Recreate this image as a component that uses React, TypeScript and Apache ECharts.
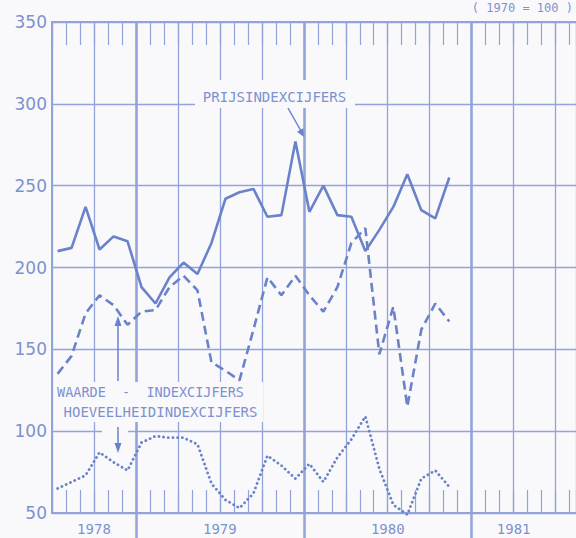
import React, { useEffect, useRef } from "react";
import * as echarts from "echarts";

// Monthly index values, July 1978 .. November 1980 (1970 = 100)
const prijs = [210, 212, 237, 211, 219, 216, 188, 178, 194, 203, 196, 215, 242, 246, 248, 231, 232, 277, 234, 250, 232, 231, 210, 223, 237, 257, 235, 230, 255];
const waarde = [135, 146, 172, 183, 177, 165, 173, 174, 188, 195, 186, 142, 137, 131, 162, 194, 183, 195, 183, 173, 188, 215, 224, 147, 176, 115, 162, 178, 167];
const hoeveelheid = [65, 69, 73, 87, 81, 76, 93, 97, 96, 96, 92, 68, 58, 53, 62, 85, 79, 71, 80, 69, 84, 95, 109, 77, 55, 49, 71, 76, 66];

// x axis in months counted from 1 July 1978
const yearLabels = ["1978", "1979", "1980", "1981"];
const yearLabelMonths = [3, 12, 24, 33];
const yearStartMonths = [6, 18, 30];
const pointOffset = 0.4;

const Y_MIN = 50;
const Y_MAX = 350;
const Y_STEP = 50;

const BG = "#f9f9fb";
const GRID = "#92a3da";
const LINE = "#6a82c8";
const TEXT = "#7d91cf";
const MONO = "'DejaVu Sans Mono', monospace";

const GRID_LEFT = 52;
const GRID_RIGHT = -30;
const MONTH_PX = 14.79;
const X_MAX = (576 - GRID_LEFT - GRID_RIGHT) / MONTH_PX;

const toPoints = (arr: number[]) => arr.map((v, i) => [i + pointOffset, v]);

export default function App() {
  const ref = useRef<HTMLDivElement>(null);
  useEffect(() => {
    if (!ref.current) return;
    const chart = echarts.init(ref.current, null, { renderer: "svg" });
    const baseX = { type: "value", gridIndex: 0, min: 0, max: X_MAX };
    const hidden = { axisLine: { show: false }, splitLine: { show: false }, axisLabel: { show: false } };
    const option: any = {
      animation: false,
      backgroundColor: BG,
      grid: { left: GRID_LEFT, right: GRID_RIGHT, top: 22, bottom: 25 },
      xAxis: [
        {
          ...baseX,
          position: "bottom",
          interval: 3,
          axisLine: { show: true, onZero: false, lineStyle: { color: GRID, width: 2 } },
          splitLine: { show: true, lineStyle: { color: GRID, width: 1.3 } },
          axisTick: { show: false },
          axisLabel: {
            show: true,
            customValues: yearLabelMonths,
            formatter: (v: number) => yearLabels[yearLabelMonths.indexOf(v)] ?? "",
            margin: 9,
            fontFamily: MONO,
            fontSize: 14,
            color: TEXT,
          },
        },
        {
          ...baseX,
          ...hidden,
          position: "bottom",
          interval: 1,
          axisTick: { show: true, inside: true, length: 23, lineStyle: { color: GRID, width: 1.2 } },
        },
        {
          ...baseX,
          ...hidden,
          position: "top",
          interval: 1,
          axisLine: { show: true, onZero: false, lineStyle: { color: GRID, width: 2 } },
          axisTick: { show: true, inside: true, length: 23, lineStyle: { color: GRID, width: 1.2 } },
        },
        {
          ...baseX,
          ...hidden,
          position: "bottom",
          axisTick: { show: true, customValues: yearStartMonths, inside: true, length: 491, lineStyle: { color: GRID, width: 2.5 } },
        },
        {
          ...baseX,
          ...hidden,
          position: "bottom",
          axisTick: { show: true, customValues: yearStartMonths, inside: false, length: 26, lineStyle: { color: GRID, width: 2.5 } },
        },
      ],
      yAxis: {
        type: "value",
        min: Y_MIN,
        max: Y_MAX,
        interval: Y_STEP,
        axisLine: { show: true, lineStyle: { color: GRID, width: 2 } },
        axisTick: { show: false },
        splitLine: { show: true, lineStyle: { color: GRID, width: 1.3 } },
        axisLabel: { margin: 5, fontFamily: "'DejaVu Sans', sans-serif", fontSize: 17, color: TEXT },
      },
      series: [
        {
          name: "PRIJSINDEXCIJFERS",
          type: "line",
          data: toPoints(prijs),
          symbol: "none",
          clip: false,
          z: 4,
          lineStyle: { color: LINE, width: 2.6 },
        },
        {
          name: "WAARDE - INDEXCIJFERS",
          type: "line",
          data: toPoints(waarde),
          symbol: "none",
          clip: false,
          z: 4,
          lineStyle: { color: LINE, width: 2.6, type: [9, 5] },
        },
        {
          name: "HOEVEELHEIDINDEXCIJFERS",
          type: "line",
          data: toPoints(hoeveelheid),
          symbol: "none",
          clip: false,
          z: 4,
          lineStyle: { color: LINE, width: 2.8, type: [0.1, 4.6], cap: "round" },
        },
      ],
      graphic: [
        { type: "rect", z: 1, shape: { x: 195, y: 80, width: 160, height: 28 }, style: { fill: BG } },
        { type: "rect", z: 1, shape: { x: 55, y: 382, width: 208, height: 40 }, style: { fill: BG } },
        { type: "rect", z: 1, shape: { x: 102, y: 428, width: 26, height: 8 }, style: { fill: BG } },
        {
          type: "text", z: 5, x: 274.5, y: 97,
          style: { text: "PRIJSINDEXCIJFERS", fill: TEXT, font: `14px ${MONO}`, align: "center", verticalAlign: "middle" },
        },
        {
          type: "text", z: 5, x: 150.5, y: 392,
          style: { text: "WAARDE  -  INDEXCIJFERS", fill: TEXT, font: `13.5px ${MONO}`, align: "center", verticalAlign: "middle" },
        },
        {
          type: "text", z: 5, x: 160.5, y: 412,
          style: { text: "HOEVEELHEIDINDEXCIJFERS", fill: TEXT, font: `14px ${MONO}`, align: "center", verticalAlign: "middle" },
        },
        {
          type: "text", z: 5, x: 573, y: 2,
          style: { text: "( 1970 = 100 )", fill: TEXT, font: `12px ${MONO}`, align: "right", verticalAlign: "top" },
        },
        { type: "line", z: 5, shape: { x1: 288, y1: 108, x2: 301, y2: 131 }, style: { stroke: LINE, lineWidth: 1.5 } },
        { type: "polygon", z: 5, shape: { points: [[304, 137], [297, 131.7], [303.2, 128.3]] }, style: { fill: LINE } },
        { type: "line", z: 5, shape: { x1: 118, y1: 381, x2: 118, y2: 324 }, style: { stroke: LINE, lineWidth: 1.5 } },
        { type: "polygon", z: 5, shape: { points: [[118, 316], [114.5, 326], [121.5, 326]] }, style: { fill: LINE } },
        { type: "line", z: 5, shape: { x1: 118, y1: 427, x2: 118, y2: 445 }, style: { stroke: LINE, lineWidth: 1.5 } },
        { type: "polygon", z: 5, shape: { points: [[118, 453], [114.5, 443], [121.5, 443]] }, style: { fill: LINE } },
      ],
    };
    chart.setOption(option);
    return () => chart.dispose();
  }, []);
  return <div ref={ref} style={{ position: "fixed", left: 0, top: 0, width: 576, height: 538 }} />;
}
